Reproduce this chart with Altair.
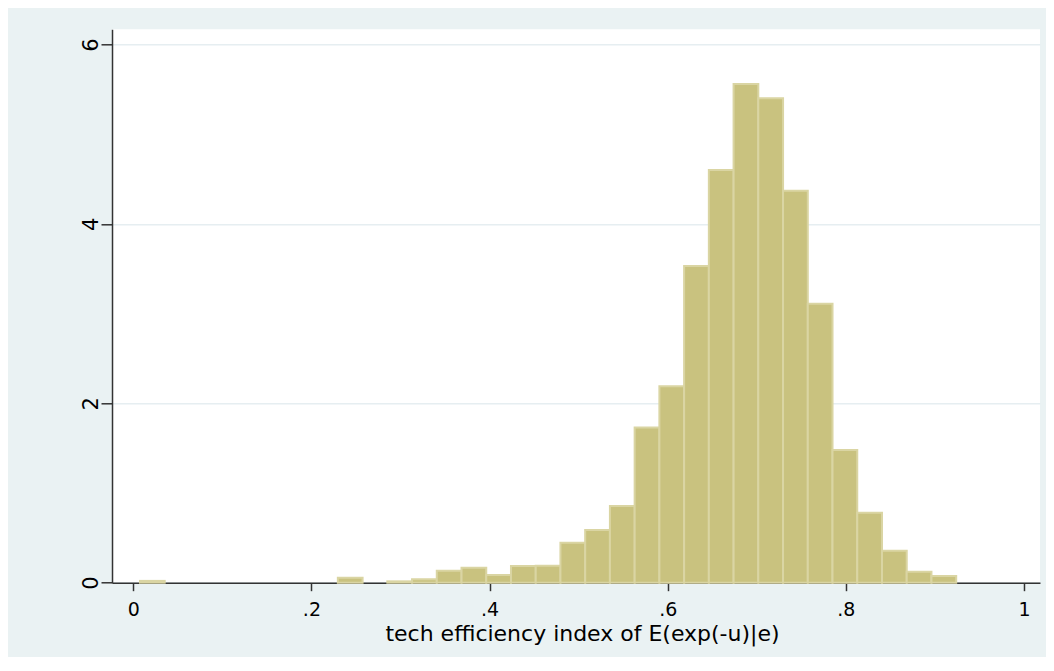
import altair as alt
import pandas as pd

# Histogram (density)
bin_start = 0.0075
bin_width = 0.02777
density = [0.02, 0, 0, 0, 0, 0, 0, 0, 0.055, 0, 0.015, 0.038, 0.133, 0.167,
           0.085, 0.185, 0.19, 0.445, 0.587, 0.854, 1.73, 2.19, 3.53, 4.60,
           5.56, 5.40, 4.37, 3.11, 1.48, 0.78, 0.356, 0.122, 0.074]
x_ticks = [0, 0.2, 0.4, 0.6, 0.8, 1]
y_ticks = [0, 2, 4, 6]

rows = []
for i, d in enumerate(density):
    if d > 0:
        lo = bin_start + i * bin_width
        rows.append({"lo": lo, "hi": lo + bin_width, "density": d})
df = pd.DataFrame(rows)

FONT = "DejaVu Sans"
AX = "#333333"

chart = alt.Chart(df).mark_rect(
    fill="#C9C27F", stroke="#DAD5A3", strokeWidth=2
).encode(
    x=alt.X("lo:Q",
            scale=alt.Scale(domain=[-0.0239, 1.018], nice=False, zero=False),
            axis=alt.Axis(values=x_ticks,
                          labelExpr="datum.value == 0 ? '0' : datum.value == 1 ? '1' : replace(format(datum.value, '.1f'), '0.', '.')",
                          title="tech efficiency index of E(exp(-u)|e)",
                          grid=False, tickSize=8, labelPadding=10,
                          labelFont=FONT, labelFontSize=19, labelColor="#000000",
                          titleFont=FONT, titleFontSize=22, titleFontWeight="normal",
                          titleColor="#000000", titleBaseline="alphabetic",
                          titleX=470, titleY=58, titleAnchor="middle",
                          domainColor=AX, domainWidth=1.5, tickColor=AX, tickWidth=1.5)),
    x2="hi:Q",
    y=alt.Y("density:Q",
            scale=alt.Scale(domain=[0, 6.17], nice=False, zero=True),
            axis=alt.Axis(values=y_ticks, format="d", title="",
                          grid=True, gridColor="#E6EEF1", gridWidth=1.5,
                          tickSize=11, labelPadding=4, labelAngle=270,
                          labelAlign="center", labelBaseline="alphabetic",
                          labelFont=FONT, labelFontSize=21, labelColor="#000000",
                          domainColor=AX, domainWidth=1.5, tickColor=AX, tickWidth=1.5)),
    y2=alt.datum(0),
).properties(
    width=928,
    height=553.4,
    autosize=alt.AutoSizeParams(type="none"),
    padding={"left": 104, "top": 21.3, "right": 6, "bottom": 74},
    background="#EAF2F3",
).configure_view(fill="#FFFFFF", strokeWidth=0)

chart.save("out.html", embed_options={"renderer": "svg", "actions": False})
